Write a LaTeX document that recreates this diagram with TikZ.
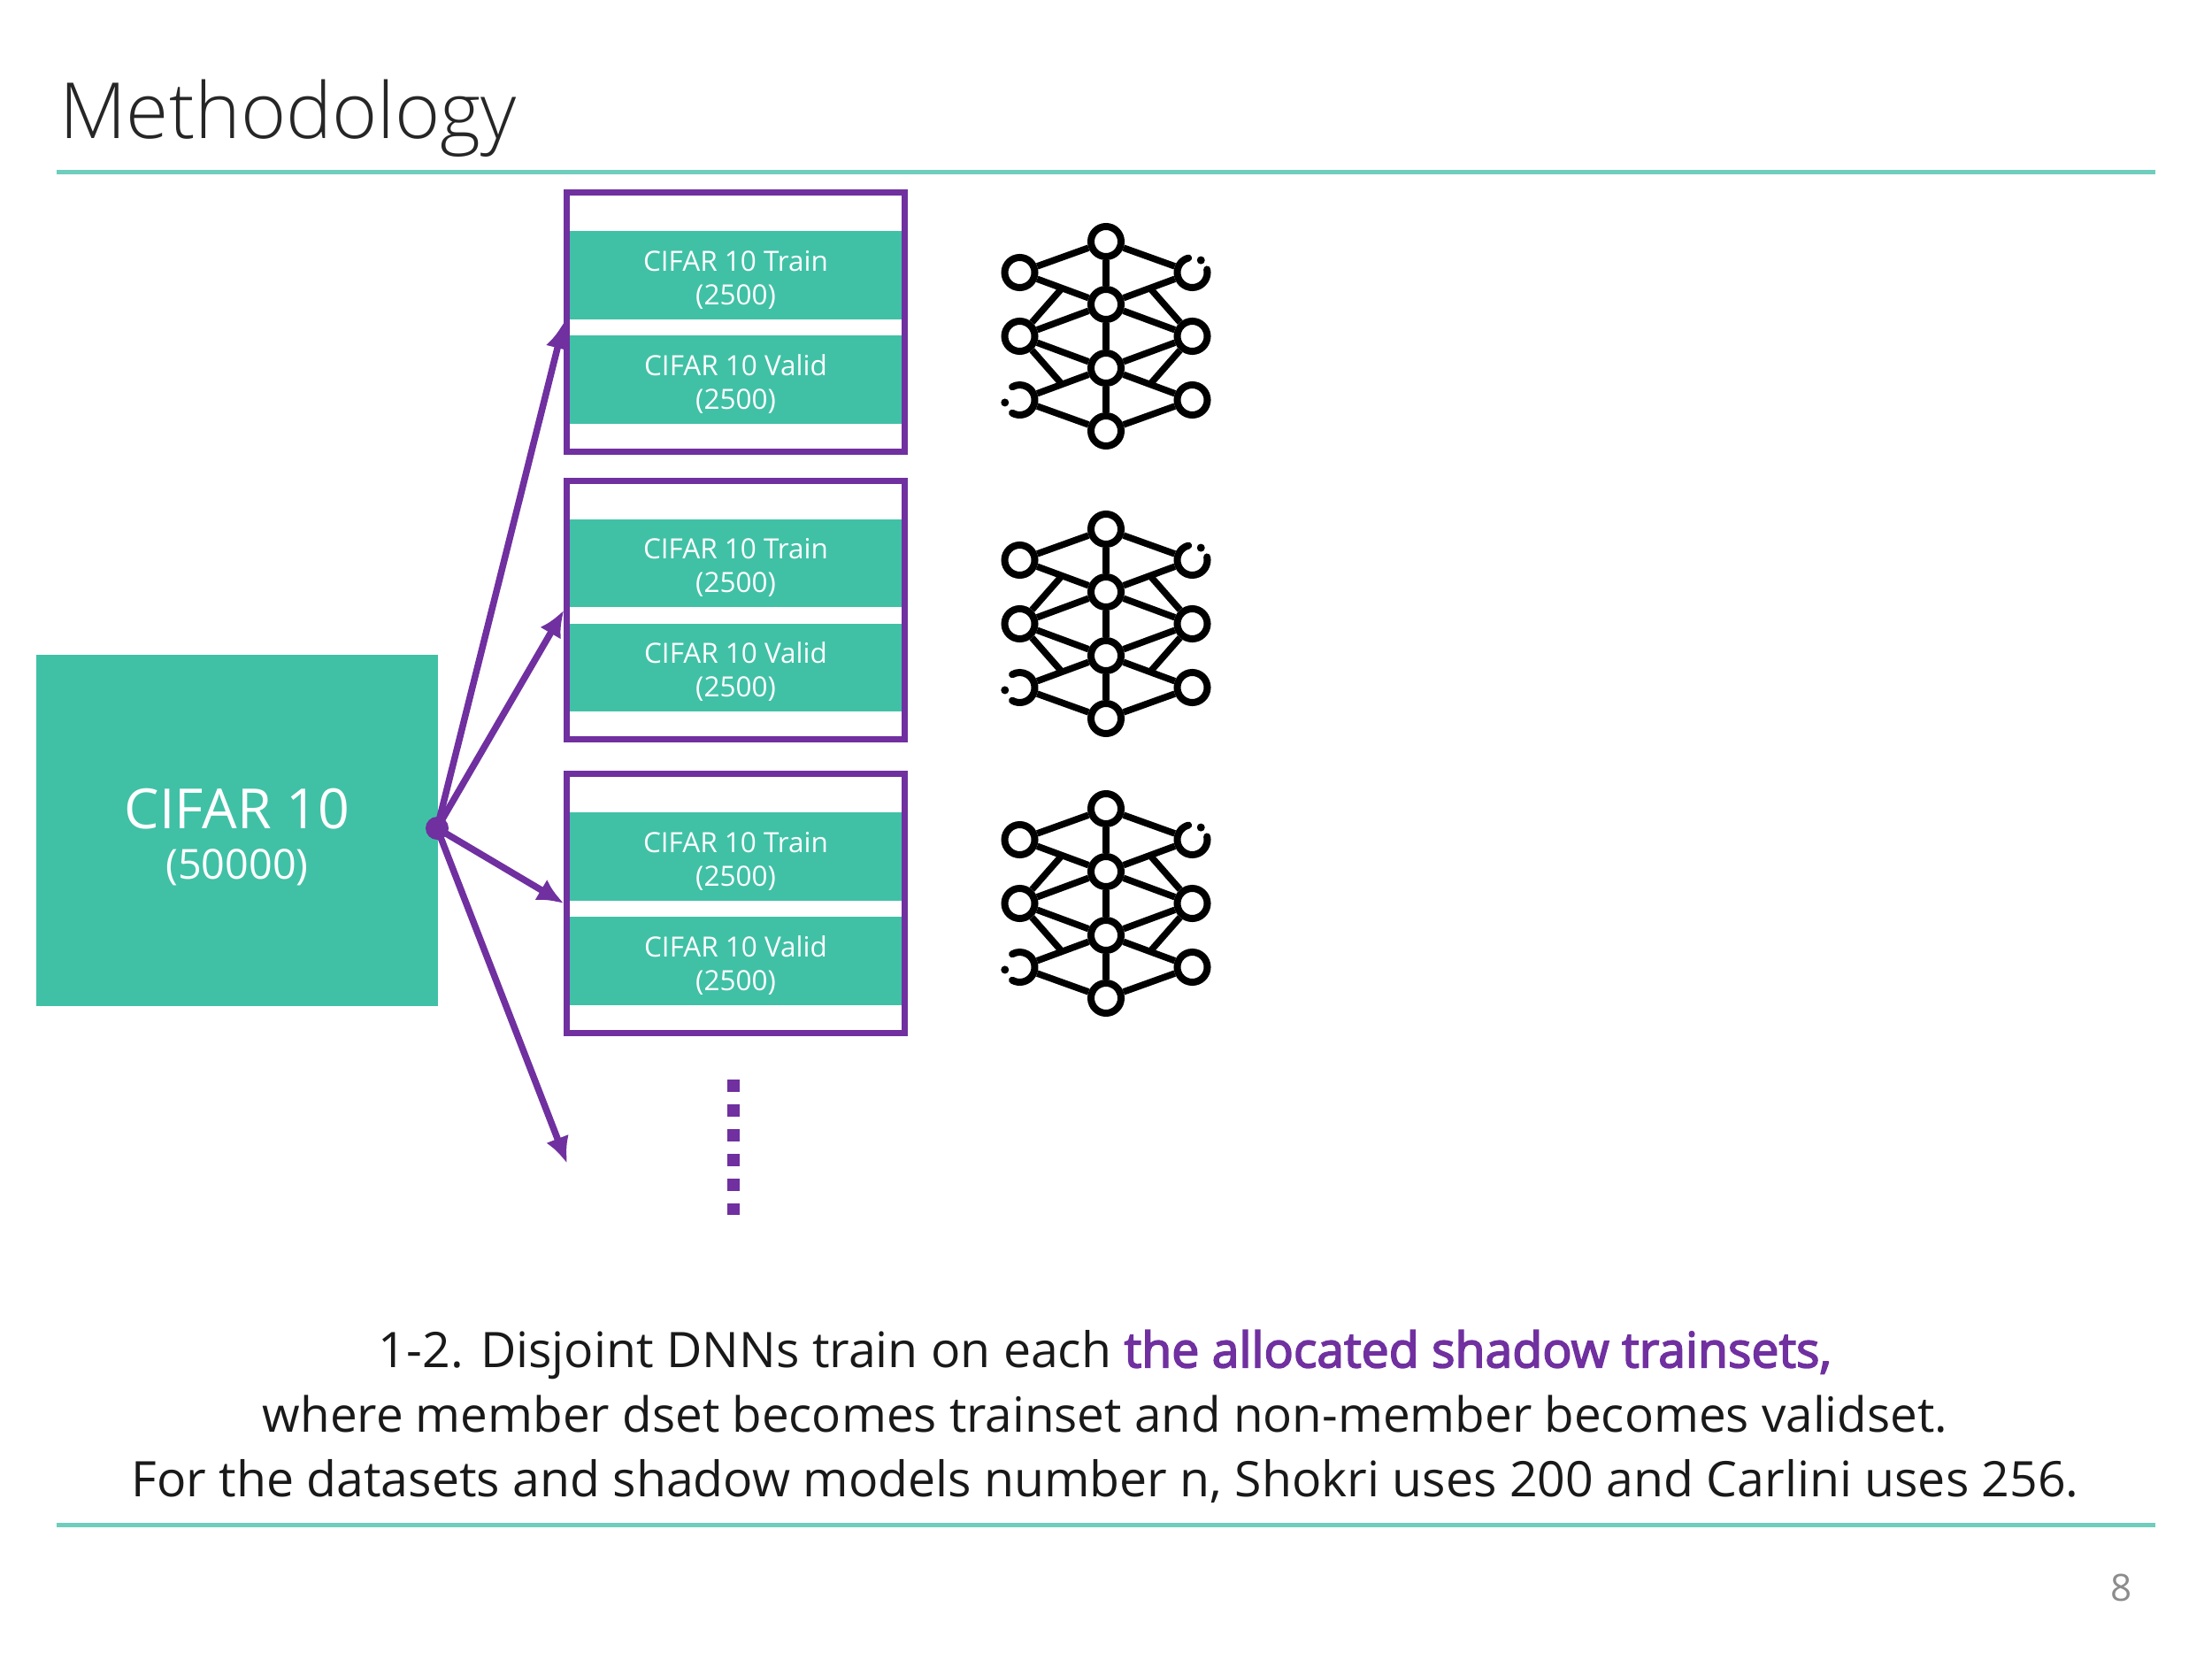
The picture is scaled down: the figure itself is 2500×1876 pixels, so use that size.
\documentclass[tikz,border=0pt]{standalone}
\usepackage{fontspec}
\setmainfont{Open Sans}
\newfontfamily\lightfont{Open Sans Light}
\newfontfamily\heavyfont{Open Sans}[FakeBold=3]
\usetikzlibrary{arrows.meta, positioning, calc}
\definecolor{tealfill}{RGB}{64, 193, 166}
\definecolor{tealrule}{RGB}{111, 205, 189}
\definecolor{shadowpurple}{RGB}{112, 48, 160}
\definecolor{pagegray}{RGB}{140, 140, 140}
\begin{document}
\begin{tikzpicture}[
                x=0.01cm, y=0.01cm,
                every node/.style={align=center},
                bigset/.style={rectangle, fill=tealfill, text=white, minimum width=4.53cm, minimum height=3.97cm, inner sep=0pt},
                shadowbox/.style={rectangle, draw=shadowpurple, line width=0.07cm, minimum width=3.81cm, minimum height=2.92cm, inner sep=0pt},
                splitbox/.style={rectangle, fill=tealfill, text=white, minimum width=3.8cm, minimum height=0.99cm, inner sep=0pt, font=\fontsize{8.95pt}{10.8pt}\selectfont},
                feed/.style={draw=shadowpurple, line width=0.075cm, -{Latex[length=0.3cm, width=0.27cm]}},
                netnode/.style={circle, draw=black, line width=0.08cm, minimum size=0.34cm, inner sep=0pt},
                netgap/.style={circle, line width=0.08cm, minimum size=0.34cm, inner sep=0pt},
                netedge/.style={draw=black, line width=0.075cm},
                pics/neticon/.style={code={
                    \node[netnode] (-top) at (0,107) {};
                    \node[netnode] (-c1) at (0,36) {};
                    \node[netnode] (-c2) at (0,-36) {};
                    \node[netnode] (-bot) at (0,-107) {};
                    \node[netnode] (-l1) at (-97.5,72) {};
                    \node[netnode] (-l2) at (-97.5,0) {};
                    \node[netgap] (-l3) at (-97.5,-72) {};
                    \node[netgap] (-r1) at (97.5,72) {};
                    \node[netnode] (-r2) at (97.5,0) {};
                    \node[netnode] (-r3) at (97.5,-72) {};
                    % the two open rings
                    \draw[black, line width=0.08cm, line cap=round] (97.5,72) ++(12:17) arc[start angle=12, end angle=-255, radius=17];
                    \fill[black] (97.5,72) ++(55:17) circle[radius=4.5];
                    \draw[black, line width=0.08cm, line cap=round] (-97.5,-72) ++(240:17) arc[start angle=240, end angle=480, radius=17];
                    \fill[black] (-97.5,-72) ++(190:17) circle[radius=4.5];
                    \foreach \a/\b in {-top/-l1, -top/-r1, -top/-c1, -c1/-c2, -c2/-bot, -l1/-c1, -r1/-c1, -l2/-c1, -r2/-c1,
                                       -l2/-c2, -r2/-c2, -l3/-c2, -r3/-c2, -l3/-bot, -r3/-bot}
                        \draw[netedge] (\a) -- (\b);
                }}
            ]
    \useasboundingbox (0,0) rectangle (2500,-1876);
    \node[anchor=base west, font=\lightfont\fontsize{24.9pt}{28pt}\selectfont, text=black!85] (title) at (55,-157) {Methodology};
    \coordinate (topl) at (64,-194.5);
    \coordinate (topr) at (2436,-194.5);
    \coordinate (botl) at (64,-1723.5);
    \coordinate (botr) at (2436,-1723.5);
    \draw[tealrule, line width=0.05cm] (topl) -- (topr);
    \draw[tealrule, line width=0.05cm] (botl) -- (botr);

    \node[bigset] (cifar) at (268,-938.5) {{\fontsize{17.8pt}{18.2pt}\selectfont\rule{0pt}{17.2pt}CIFAR 10}\\[4pt]{\fontsize{13.3pt}{18.2pt}\selectfont (50000)}};
    \node[circle, fill=shadowpurple, minimum size=0.26cm, inner sep=0pt] (hub) at (494,-936) {};

    \foreach \i/\y/\n in {1/364/380, 2/689.5/705, 3/1021/1021} {
        \coordinate (mid\i) at (831.5,-\y);
        \node[splitbox] (train\i) at ($(mid\i)+(0,53)$) {\rule{0pt}{9.65pt}CIFAR 10 Train\\(2500)};
        \node[splitbox] (valid\i) at ($(mid\i)+(0,-65)$) {\rule{0pt}{9.65pt}CIFAR 10 Valid\\(2500)};
        \node[shadowbox] (box\i) at (mid\i) {};
        \draw[feed] (hub.center) -- (box\i.west);
        \pic (net\i) at (1250,-\n) {neticon};
        \draw[netedge] ($(net\i-l1)!0.49!(net\i-c1)$) -- (net\i-l2);
        \draw[netedge] ($(net\i-r1)!0.49!(net\i-c1)$) -- (net\i-r2);
        \draw[netedge] ($(net\i-l3)!0.49!(net\i-c2)$) -- (net\i-l2);
        \draw[netedge] ($(net\i-r3)!0.49!(net\i-c2)$) -- (net\i-r2);
    }

    \coordinate (tail) at (641,-1315);
    \draw[feed] (hub.center) -- (tail);
    \coordinate (morea) at (829,-1220);
    \coordinate (moreb) at (829,-1373);
    \draw[shadowpurple, line width=0.14cm, dash pattern=on 0.135cm off 0.145cm] (morea) -- (moreb);

    \node[font=\fontsize{15.75pt}{20.8pt}\selectfont, text=black!90] (caption) at (1249,-1601) {1-2. Disjoint DNNs train on each {\color{shadowpurple}\heavyfont the allocated shadow trainsets,}\\{\fontsize{15.58pt}{20.8pt}\selectfont where member dset becomes trainset and non-member becomes validset.}\\For the datasets and shadow models number n, Shokri uses 200 and Carlini uses 256.};
    \node[font=\fontsize{12pt}{14pt}\selectfont, text=pagegray] (page) at (2398,-1794) {8};
\end{tikzpicture}
\end{document}
